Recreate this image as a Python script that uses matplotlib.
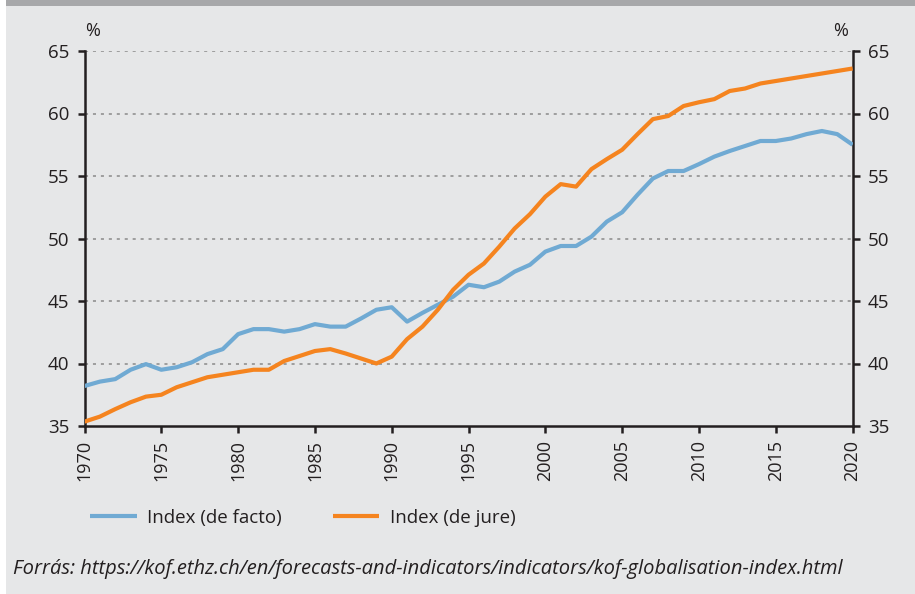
import numpy as np
import matplotlib
matplotlib.use("Agg")
import matplotlib.pyplot as plt
from matplotlib.patches import Rectangle

years = list(range(1970, 2021))

de_facto = [38.2, 38.55, 38.75, 39.5, 39.95, 39.5, 39.7, 40.1, 40.75, 41.15,
            42.35, 42.75, 42.75, 42.55, 42.75, 43.15, 42.95, 42.95, 43.6, 44.3,
            44.5, 43.35, 44.05, 44.7, 45.35, 46.3, 46.1, 46.55, 47.35, 47.9,
            48.95, 49.4, 49.4, 50.15, 51.35, 52.1, 53.5, 54.8, 55.4, 55.4,
            55.95, 56.55, 57.0, 57.4, 57.8, 57.8, 58.0, 58.35, 58.6, 58.35,
            57.5]

de_jure = [35.35, 35.75, 36.35, 36.9, 37.35, 37.5, 38.1, 38.5, 38.9, 39.1,
           39.3, 39.5, 39.5, 40.2, 40.6, 41.0, 41.15, 40.8, 40.4, 40.0,
           40.55, 41.95, 42.95, 44.3, 45.9, 47.1, 48.0, 49.35, 50.8, 51.95,
           53.35, 54.35, 54.15, 55.55, 56.35, 57.1, 58.35, 59.55, 59.8, 60.6,
           60.9, 61.15, 61.8, 62.0, 62.4, 62.6, 62.8, 63.0, 63.2, 63.4,
           63.6]

y_ticks = [35, 40, 45, 50, 55, 60, 65]
x_ticks = list(range(1970, 2021, 5))

series_labels = ["Index (de facto)", "Index (de jure)"]
source_text = "Forrás: https://kof.ethz.ch/en/forecasts-and-indicators/indicators/kof-globalisation-index.html"

BG = "#e6e7e8"
BLUE = "#70aad3"
ORANGE = "#f5841f"
INK = "#231f20"

plt.rcParams['font.family'] = ['Open Sans', 'DejaVu Sans']

fig = plt.figure(figsize=(9.15, 5.94), dpi=100)
fig.patch.set_facecolor("white")
fig.patches.append(Rectangle((6 / 915, 0), 1, 1, transform=fig.transFigure,
                             facecolor=BG, edgecolor="none", zorder=-10))
fig.patches.append(Rectangle((6 / 915, 1 - 6 / 594), 1, 6 / 594, transform=fig.transFigure,
                             facecolor="#a7a8aa", edgecolor="none", zorder=-9))

ax = fig.add_axes([84.5 / 915, 1 - 426 / 594, (852.6 - 84.5) / 915, (426 - 51) / 594])
ax.set_facecolor(BG)

l1, = ax.plot(years, de_facto, color=BLUE, lw=3.0, solid_capstyle="butt", zorder=3)
l2, = ax.plot(years, de_jure, color=ORANGE, lw=3.0, solid_capstyle="butt", zorder=3)

ax.set_xlim(1970, 2020)
ax.set_ylim(35, 65)
ax.set_xticks(x_ticks)
ax.set_xticklabels([str(x) for x in x_ticks], rotation=90, fontsize=13, color=INK)
ax.set_yticks(y_ticks)
ax.set_yticklabels([str(y) for y in y_ticks], fontsize=13.5, color=INK)

for y in y_ticks[1:]:
    ax.axhline(y, color="#8a8a8a", lw=1.1, ls=(0, (2, 3.2)), zorder=1)

ax.spines["top"].set_visible(False)
for side in ["left", "right", "bottom"]:
    ax.spines[side].set_color(INK)
    ax.spines[side].set_linewidth(1.8)

ax.tick_params(axis="y", which="both", direction="out", length=5, width=1.8,
               color=INK, left=True, right=True, labelleft=True, labelright=True, pad=6)
ax.tick_params(axis="x", direction="out", length=5, width=1.8, color=INK, pad=5)

fig.text(85 / 915, 1 - 31 / 594, "%", fontsize=13, color=INK, ha="left", va="center")
fig.text(848 / 915, 1 - 31 / 594, "%", fontsize=13, color=INK, ha="right", va="center")

fig.legend([l1, l2], series_labels, loc="center left",
           bbox_to_anchor=(90 / 915, 1 - 518 / 594), ncol=2, frameon=False,
           fontsize=13.5, handlelength=2.5, handletextpad=0.55, columnspacing=2.7,
           borderpad=0, borderaxespad=0, labelcolor=INK)

fig.text(13 / 915, 1 - 569 / 594, source_text, fontsize=14.5, style="italic",
         color=INK, ha="left", va="center")

fig.savefig("out.png", dpi=100, facecolor=fig.get_facecolor())
